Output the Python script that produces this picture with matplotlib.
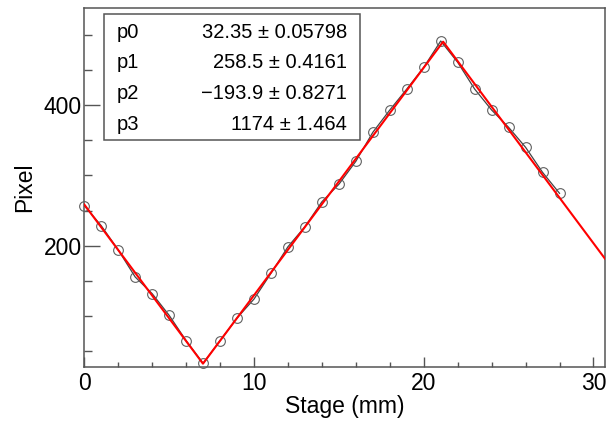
import numpy as np
import matplotlib
matplotlib.use("Agg")
import matplotlib.pyplot as plt
from matplotlib.patches import Rectangle
from matplotlib.ticker import MultipleLocator

# measured pixel position vs stage position
stage_mm = [0, 1, 2, 3, 4, 5, 6, 7, 8, 9, 10, 11, 12, 13, 14,
            15, 16, 17, 18, 19, 20, 21, 22, 23, 24, 25, 26, 27, 28]
pixel = [256.9, 228.4, 193.9, 155.5, 131.8, 101.0, 65.0, 32.8, 65.0, 97.2,
         124.2, 160.8, 198.6, 227.0, 262.5, 287.3, 320.0, 361.2, 392.9, 422.7,
         453.6, 491.0, 460.7, 422.7, 392.9, 368.3, 339.9, 304.3, 274.5]

# fit parameters (stats box)
par_names = ["p0", "p1", "p2", "p3"]
par_values = ["32.35", "258.5", "\u2212193.9", "1174"]
par_errors = ["0.05798", "0.4161", "0.8271", "1.464"]
p0, p1, p2, p3 = 32.35, 258.5, -193.9, 1174.0

XMAX = 30.68
YMIN, YMAX = 28.0, 537.5

plt.rcParams["font.family"] = ["Liberation Sans", "DejaVu Sans"]

W, H = 610, 421
fig = plt.figure(figsize=(W / 100, H / 100), dpi=100)
ax = fig.add_axes([84.3 / W, 1 - 366.7 / H, (605 - 84.3) / W, (366.7 - 8.3) / H])

frame_col = "#555555"
for s in ax.spines.values():
    s.set_color(frame_col)
    s.set_linewidth(1.1)

# data graph: thin line through open circles
ax.plot(stage_mm, pixel, "-", color="#444444", lw=0.9, zorder=2)
ax.plot(stage_mm, pixel, "o", ms=7, mfc="none", mec="#606060", mew=0.8,
        zorder=3, clip_on=False)


# fitted V/Λ model drawn from its parameters
def model(x):
    x = np.asarray(x, dtype=float)
    return np.maximum(p1 - p0 * x, np.minimum(p0 * x + p2, p3 - p0 * x))


x_knots = np.array([0.0, (p1 - p2) / (2 * p0), (p3 - p2) / (2 * p0), XMAX])
ax.plot(x_knots, model(x_knots), "-", color="red", lw=1.5, zorder=4)

ax.set_xlim(0, XMAX)
ax.set_ylim(YMIN, YMAX)
ax.xaxis.set_major_locator(MultipleLocator(10))
ax.xaxis.set_minor_locator(MultipleLocator(2))
ax.yaxis.set_major_locator(MultipleLocator(200))
ax.yaxis.set_minor_locator(MultipleLocator(50))
ax.tick_params(axis="both", which="both", direction="in", colors=frame_col,
               labelcolor="black", labelsize=16.5, width=1.0)
ax.tick_params(axis="x", which="major", length=7.2, pad=4)
ax.tick_params(axis="x", which="minor", length=3.6)
ax.tick_params(axis="y", which="major", length=11.5, pad=2)
ax.tick_params(axis="y", which="minor", length=5.8)

ax.set_xlabel("Stage (mm)", fontsize=16.5)
ax.set_ylabel("Pixel", fontsize=16.5)
ax.xaxis.set_label_coords(0.5, -0.078)
ax.yaxis.set_label_coords(-0.092, 0.5)

# stats box
bx0, bx1, by0, by1 = 104.3, 360.0, 14.3, 140.0
fig.patches.append(Rectangle((bx0 / W, 1 - by1 / H), (bx1 - bx0) / W,
                             (by1 - by0) / H, transform=fig.transFigure,
                             facecolor="white", edgecolor=frame_col, lw=1.1,
                             zorder=5))
for i, (n, v, e) in enumerate(zip(par_names, par_values, par_errors)):
    yb = 1 - (37.5 + i * 30.8) / H
    fig.text(116.7 / W, yb, n, fontsize=14.5, ha="left", va="baseline", zorder=6)
    fig.text(347.0 / W, yb, f"{v} \u00b1 {e}", fontsize=14.5, ha="right",
             va="baseline", zorder=6)

fig.savefig("out.png", dpi=100, facecolor="white")
